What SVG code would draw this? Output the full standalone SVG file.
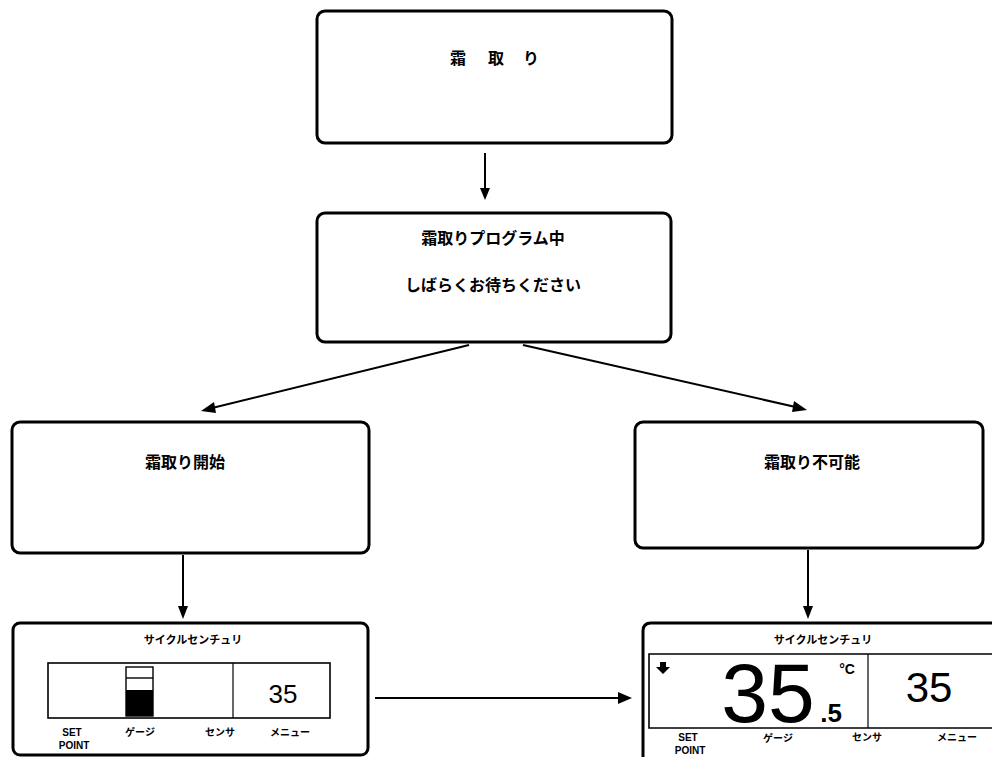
<svg xmlns="http://www.w3.org/2000/svg" width="992" height="757" viewBox="0 0 992 757">
<defs>
<style>
.box{fill:#fff;stroke:#000;stroke-width:3}
.in{fill:#fff;stroke:#000;stroke-width:1.6}
.t{font-family:"Noto Sans CJK JP","Noto Sans",sans-serif;font-weight:bold;fill:#000;text-anchor:middle}
.n{font-family:"Liberation Sans",Arial,sans-serif;fill:#000;text-anchor:middle}
</style>
</defs>
<rect width="992" height="757" fill="#fff"/>
<g id="connectors">
<line x1="485" y1="153" x2="485" y2="190" stroke="#000" stroke-width="2"/>
<path d="M480,188 L485,200 L490,188 z" fill="#000"/>
<line x1="469" y1="345" x2="208" y2="409" stroke="#000" stroke-width="2"/>
<path d="M201,411 L214,402 L216,413 z" fill="#000"/>
<line x1="523" y1="345" x2="800" y2="408" stroke="#000" stroke-width="2"/>
<path d="M807,410 L794,401 L792,412 z" fill="#000"/>
<line x1="183" y1="555" x2="183" y2="608" stroke="#000" stroke-width="2"/>
<path d="M178,606 L183,619 L188,606 z" fill="#000"/>
<line x1="808" y1="550" x2="808" y2="608" stroke="#000" stroke-width="2"/>
<path d="M803,606 L808,619 L813,606 z" fill="#000"/>
<line x1="375" y1="698" x2="620" y2="698" stroke="#000" stroke-width="2"/>
<path d="M618,692 L632,698 L618,704 z" fill="#000"/>
</g>
<g id="n1">
<rect class="box" x="317" y="11" width="355" height="132" rx="8"/>
<text class="t" y="64" font-size="16"><tspan x="458">霜</tspan><tspan x="496">取</tspan><tspan x="531">り</tspan></text>
</g>
<g id="n2">
<rect class="box" x="317" y="213" width="354" height="129" rx="8"/>
<text class="t" x="493" y="244" font-size="16">霜取りプログラム中</text>
<text class="t" x="493" y="291" font-size="16">しばらくお待ちください</text>
</g>
<g id="n3">
<rect class="box" x="12" y="422" width="357" height="131" rx="8"/>
<text class="t" x="185" y="468" font-size="16">霜取り開始</text>
</g>
<g id="n4">
<rect class="box" x="635" y="422" width="348" height="126" rx="8"/>
<text class="t" x="812" y="468" font-size="16">霜取り不可能</text>
</g>
<g id="n5">
<rect class="box" x="13" y="623" width="355" height="132" rx="7"/>
<text class="t" x="193" y="644" font-size="11">サイクルセンチュリ</text>
<rect class="in" x="48" y="663" width="282" height="55"/>
<line x1="233" y1="663" x2="233" y2="718" stroke="#000" stroke-width="1.2"/>
<rect x="126" y="667" width="27" height="49" fill="#fff" stroke="#000" stroke-width="1.4"/>
<line x1="126" y1="678" x2="153" y2="678" stroke="#000" stroke-width="1.4"/>
<rect x="126" y="690" width="27" height="26" fill="#000"/>
<text class="n" x="283" y="703" font-size="26">35</text>
<text class="n" x="72" y="736" font-size="10" font-weight="bold">SET</text>
<text class="n" x="74" y="749" font-size="10" font-weight="bold">POINT</text>
<text class="t" x="140" y="736" font-size="10">ゲージ</text>
<text class="t" x="220" y="736" font-size="10">センサ</text>
<text class="t" x="290" y="736" font-size="10">メニュー</text>
</g>
<g id="n6">
<path class="box" d="M643,760 L643,631 Q643,623 651,623 L1000,623"/>
<text class="t" x="823" y="644" font-size="11">サイクルセンチュリ</text>
<path class="in" d="M1000,654 L649,654 L649,728 L1000,728"/>
<line x1="868" y1="654" x2="868" y2="728" stroke="#000" stroke-width="1.2"/>
<path d="M660,662 L666,662 L666,667 L670,667 L663,674 L656,667 L660,667 z" fill="#000"/>
<text class="n" x="768" y="722" font-size="84">35</text>
<text class="n" x="831" y="722" font-size="26" font-weight="bold">.5</text>
<text class="n" x="847" y="674" font-size="14" font-weight="bold">°C</text>
<text class="n" x="929" y="702" font-size="42">35</text>
<text class="n" x="688" y="741" font-size="10" font-weight="bold">SET</text>
<text class="n" x="690" y="754" font-size="10" font-weight="bold">POINT</text>
<text class="t" x="778" y="742" font-size="10">ゲージ</text>
<text class="t" x="867" y="741" font-size="10">センサ</text>
<text class="t" x="957" y="741" font-size="10">メニュー</text>
</g>
</svg>
